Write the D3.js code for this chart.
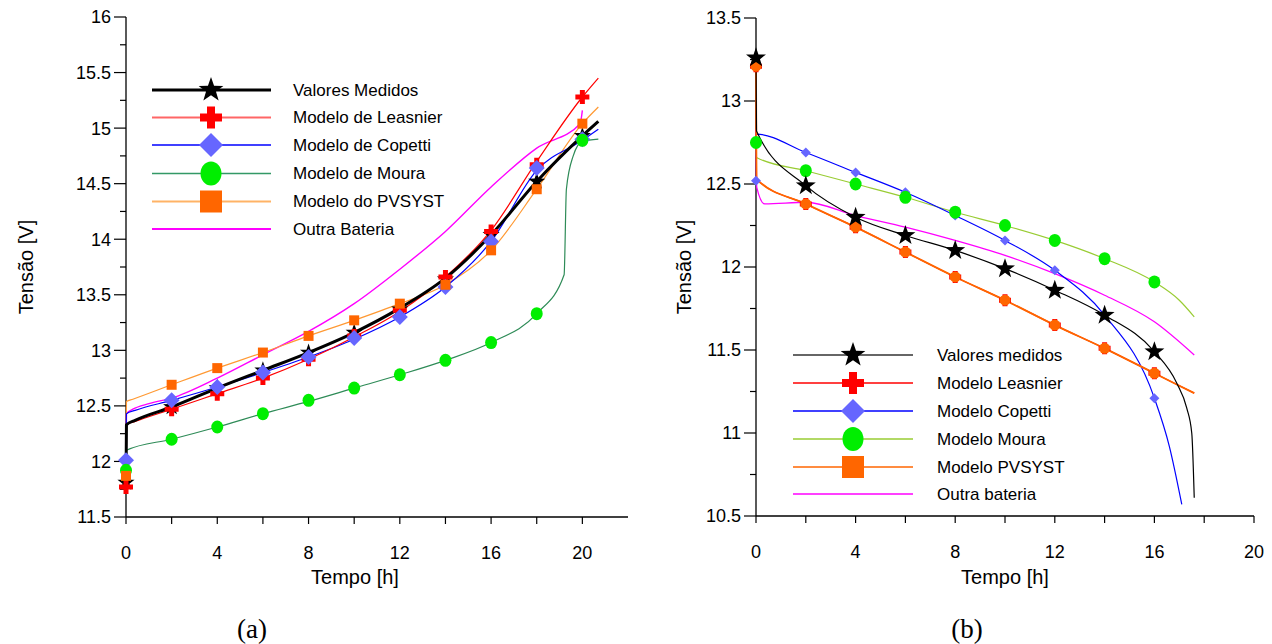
<!DOCTYPE html>
<html><head><meta charset="utf-8">
<script src="https://cdn.jsdelivr.net/npm/d3@7"></script>
<style>
body{margin:0;background:#fff}
svg{display:block}
text{font-family:"Liberation Sans",Arial,sans-serif;fill:#000}
</style>
</head><body>
<svg id="c" width="1272" height="644"></svg>
<script>
// ---------- DATA ----------
const markerTimes = [0, 2, 4, 6, 8, 10, 12, 14, 16, 18, 20];
const xTickValuesA = [0, 2, 4, 6, 8, 10, 12, 14, 16, 18, 20];
const xTickLabelsA = [0, 4, 8, 12, 16, 20];
const yTicksA = [11.5, 12, 12.5, 13, 13.5, 14, 14.5, 15, 15.5, 16];
const xTickLabelsB = [0, 4, 8, 12, 16, 20];
const yTicksB = [10.5, 11, 11.5, 12, 12.5, 13, 13.5];

// (a) charge - legend names
const namesA = ["Valores Medidos", "Modelo de Leasnier", "Modelo de Copetti", "Modelo de Moura", "Modelo do PVSYST", "Outra Bateria"];
// markers at markerTimes
const aMedidosMk  = [11.81, 12.49, 12.66, 12.82, 12.98, 13.16, 13.37, 13.64, 14.04, 14.52, 14.93];
const aLeasnierMk = [11.77, 12.47, 12.61, 12.75, 12.92, 13.13, 13.36, 13.66, 14.07, 14.67, 15.28];
const aCopettiMk  = [12.01, 12.55, 12.67, 12.80, 12.94, 13.11, 13.30, 13.57, 13.98, 14.64, 14.90];
const aMouraMk    = [11.92, 12.20, 12.31, 12.43, 12.55, 12.66, 12.78, 12.91, 13.07, 13.33, 14.89];
const aPvsystMk   = [11.87, 12.69, 12.84, 12.98, 13.13, 13.27, 13.42, 13.59, 13.90, 14.45, 15.04];
// curves [t, V]
const aMedidosLine  = [[0,11.81],[0.02,12.33],[0.4,12.37],[2,12.49],[4,12.66],[6,12.82],[8,12.98],[10,13.16],[12,13.38],[14,13.65],[16,14.04],[18,14.52],[20,14.93],[20.7,15.06]];
const aLeasnierLine = [[0,11.77],[0.02,12.33],[0.4,12.36],[2,12.47],[4,12.61],[6,12.75],[8,12.92],[10,13.12],[12,13.35],[14,13.66],[16,14.08],[18,14.70],[20,15.28],[20.7,15.45]];
const aCopettiLine  = [[0,12.01],[0.02,12.43],[0.4,12.46],[2,12.55],[4,12.67],[6,12.80],[8,12.94],[10,13.10],[12,13.30],[14,13.57],[16,13.98],[18,14.62],[20,14.89],[20.7,14.99]];
const aMouraLine    = [[0,11.92],[0.02,12.10],[2,12.20],[4,12.31],[6,12.43],[8,12.54],[10,12.66],[12,12.78],[14,12.91],[16,13.07],[18,13.33],[19.2,13.68],[19.3,14.45],[19.6,14.75],[20,14.88],[20.7,14.90]];
const aPvsystLine   = [[0,11.87],[0.02,12.54],[0.3,12.56],[2,12.69],[4,12.84],[6,12.98],[8,13.13],[10,13.27],[12,13.42],[14,13.59],[16,13.90],[18,14.45],[20,15.04],[20.7,15.19]];
const aOutraLine    = [[0,11.95],[0.02,12.43],[0.3,12.47],[1,12.52],[2,12.57],[4,12.75],[6,12.96],[8,13.17],[10,13.42],[12,13.73],[14,14.07],[16,14.47],[18,14.82],[19.9,15.04],[20,15.16]];

// (b) discharge
const namesB = ["Valores medidos", "Modelo Leasnier", "Modelo Copetti", "Modelo Moura", "Modelo PVSYST", "Outra bateria"];
const markerTimesB = [0, 2, 4, 6, 8, 10, 12, 14, 16];
const bMedidosMk  = [13.26, 12.49, 12.30, 12.19, 12.10, 11.99, 11.86, 11.71, 11.49];
const bLeasnierMk = [13.21, 12.38, 12.24, 12.09, 11.94, 11.80, 11.65, 11.51, 11.36];
const bCopettiMk  = [12.52, 12.69, 12.57, 12.45, 12.31, 12.16, 11.98, 11.71, 11.21];
const bMouraMk    = [12.75, 12.58, 12.50, 12.42, 12.33, 12.25, 12.16, 12.05, 11.91];
const bPvsystMk   = [13.21, 12.38, 12.24, 12.09, 11.94, 11.80, 11.65, 11.51, 11.36];
const bMedidosLine  = [[0,13.26],[0.02,12.82],[2,12.49],[4,12.30],[6,12.19],[8,12.10],[10,11.99],[12,11.86],[14,11.71],[16,11.49],[16.9,11.30],[17.3,11.15],[17.5,11.0],[17.6,10.61]];
const bLeasnierLine = [[0,13.21],[0.02,12.53],[2,12.38],[4,12.24],[6,12.09],[8,11.94],[10,11.80],[12,11.65],[14,11.51],[16,11.36],[17.6,11.24]];
const bCopettiLine  = [[0,12.52],[0.02,12.80],[2,12.69],[4,12.57],[6,12.45],[8,12.31],[10,12.16],[12,11.98],[14,11.71],[16,11.21],[16.6,10.92],[17.1,10.57]];
const bMouraLine    = [[0,12.75],[0.02,12.66],[2,12.58],[4,12.50],[6,12.42],[8,12.33],[10,12.25],[12,12.16],[14,12.05],[16,11.91],[17,11.80],[17.6,11.70]];
const bPvsystLine   = [[0,13.21],[0.02,12.53],[2,12.38],[4,12.24],[6,12.09],[8,11.94],[10,11.80],[12,11.65],[14,11.51],[16,11.36],[17.6,11.24]];
const bOutraLine    = [[0,12.83],[0.03,12.48],[0.35,12.38],[2,12.39],[4,12.31],[6,12.24],[8,12.16],[10,12.07],[12,11.96],[14,11.83],[16,11.67],[17.6,11.47]];

// ---------- SYMBOLS ----------
function starPath(R){const r=R*0.4;let p=[];for(let i=0;i<10;i++){const a=-Math.PI/2+i*Math.PI/5;const rr=i%2?r:R;p.push([rr*Math.cos(a),rr*Math.sin(a)]);}return "M"+p.map(d=>d.join(",")).join("L")+"Z";}
function plusPath(s,w){const h=s/2,k=w/2;return `M${-k},${-h}H${k}V${-k}H${h}V${k}H${k}V${h}H${-k}V${k}H${-h}V${-k}H${-k}Z`;}
function diamondPath(h){return `M0,${-h}L${h},0L0,${h}L${-h},0Z`;}
function squarePath(s){const h=s/2;return `M${-h},${-h}H${h}V${h}H${-h}Z`;}
function circlePath(rx,ry){ry=ry||rx;return `M${-rx},0A${rx},${ry} 0 1,0 ${rx},0A${rx},${ry} 0 1,0 ${-rx},0Z`;}

const svg = d3.select("#c");

function drawAxes(g, x, y, xTickVals, xLabelVals, yMajor, yMinorStep, xmax){
  const xa = g.append("g").attr("transform",`translate(0,${y.range()[0]})`);
  xa.append("line").attr("x1",x(0)).attr("x2",x(xmax)).attr("stroke","#000").attr("stroke-width",1.3);
  xa.selectAll("line.t").data(xTickVals).join("line").attr("class","t")
    .attr("x1",d=>x(d)).attr("x2",d=>x(d)).attr("y1",0).attr("y2",7).attr("stroke","#000").attr("stroke-width",1.2);
  xa.selectAll("text").data(xLabelVals).join("text")
    .attr("x",d=>x(d)).attr("y",42).attr("text-anchor","middle").attr("font-size",18).text(d=>d);
  const ya = g.append("g").attr("transform",`translate(${x(0)},0)`);
  const [y0,y1] = y.domain();
  ya.append("line").attr("y1",y(y0)).attr("y2",y(y1)).attr("stroke","#000").attr("stroke-width",1.3);
  const minors = d3.range(y0, y1+1e-9, yMinorStep).filter(v=>!yMajor.some(m=>Math.abs(m-v)<1e-6));
  ya.selectAll("line.mn").data(minors).join("line").attr("class","mn")
    .attr("x1",-6).attr("x2",0).attr("y1",d=>y(d)).attr("y2",d=>y(d)).attr("stroke","#000").attr("stroke-width",1.2);
  ya.selectAll("line.mj").data(yMajor).join("line").attr("class","mj")
    .attr("x1",-12).attr("x2",0).attr("y1",d=>y(d)).attr("y2",d=>y(d)).attr("stroke","#000").attr("stroke-width",1.2);
  ya.selectAll("text").data(yMajor).join("text")
    .attr("x",-15).attr("y",d=>y(d)).attr("dy","0.36em").attr("text-anchor","end").attr("font-size",18).text(d=>d);
}

function drawLine(g,x,y,data,color,width){
  g.append("path").datum(data).attr("fill","none").attr("stroke",color).attr("stroke-width",width)
   .attr("stroke-linejoin","round")
   .attr("d",d3.line().x(d=>x(d[0])).y(d=>y(d[1])).curve(d3.curveMonotoneX));
}
function drawMarkers(g,x,y,times,vals,path,color){
  g.selectAll(null).data(times.map((t,i)=>[t,vals[i]])).join("path")
   .attr("transform",d=>`translate(${x(d[0])},${y(d[1])})`).attr("d",path).attr("fill",color);
}

// ---------- CHART (a) ----------
{
  const x = d3.scaleLinear().domain([0,22]).range([126,628]);
  const y = d3.scaleLinear().domain([11.5,16]).range([517,17]);
  const g = svg.append("g");
  drawAxes(g,x,y,xTickValuesA,xTickLabelsA,yTicksA,0.25,22);
  drawLine(g,x,y,aOutraLine,"#FF00FF",1.4);
  drawLine(g,x,y,aPvsystLine,"#FF9933",1.2);
  drawLine(g,x,y,aMouraLine,"#2E8B57",1.2);
  drawLine(g,x,y,aCopettiLine,"#0000FF",1.2);
  drawLine(g,x,y,aLeasnierLine,"#FF0000",1.2);
  drawLine(g,x,y,aMedidosLine,"#000000",3);
  drawMarkers(g,x,y,markerTimes,aMedidosMk,starPath(9),"#000");
  drawMarkers(g,x,y,markerTimes,aLeasnierMk,plusPath(14,5),"#FF0000");
  drawMarkers(g,x,y,markerTimes,aCopettiMk,diamondPath(8),"#6666FF");
  drawMarkers(g,x,y,markerTimes,aMouraMk,circlePath(6,6.5),"#00EE00");
  drawMarkers(g,x,y,markerTimes,aPvsystMk,squarePath(10),"#FF6600");
  g.append("text").attr("transform","translate(26,267) rotate(-90)").attr("text-anchor","middle")
   .attr("dy","0.35em").attr("font-size",20).text("Tensão [V]");
  g.append("text").attr("x",355).attr("y",584).attr("text-anchor","middle").attr("font-size",20).text("Tempo [h]");
  g.append("text").attr("x",252).attr("y",638).attr("text-anchor","middle").attr("font-size",27)
   .style("font-family","'Liberation Serif','Times New Roman',serif").text("(a)");
  const rows=[90,117.5,145,173.5,201.5,229];
  const lStyles=[["#000",3],["#FF6666",2],["#0000FF",1.3],["#339966",1.3],["#FFB366",2],["#FF00FF",2]];
  const lMarks=[[starPath(13),"#000"],[plusPath(22,8),"#FF0000"],[diamondPath(12),"#6666FF"],[circlePath(10.5,12),"#00EE00"],[squarePath(22),"#FF6600"],null];
  namesA.forEach((n,i)=>{
    g.append("line").attr("x1",152).attr("x2",271).attr("y1",rows[i]).attr("y2",rows[i]).attr("stroke",lStyles[i][0]).attr("stroke-width",lStyles[i][1]);
    if(lMarks[i]) g.append("path").attr("transform",`translate(211,${rows[i]})`).attr("d",lMarks[i][0]).attr("fill",lMarks[i][1]);
    g.append("text").attr("x",293).attr("y",rows[i]).attr("dy","0.35em").attr("font-size",17).text(n);
  });
}

// ---------- CHART (b) ----------
{
  const x = d3.scaleLinear().domain([0,20]).range([756,1254]);
  const y = d3.scaleLinear().domain([10.5,13.5]).range([516,18]);
  const g = svg.append("g");
  drawAxes(g,x,y,xTickValuesA,xTickLabelsB,yTicksB,0.25,20);
  drawLine(g,x,y,bOutraLine,"#FF00FF",1.3);
  drawLine(g,x,y,bMouraLine,"#99CC33",1.2);
  drawLine(g,x,y,bCopettiLine,"#0000FF",1.2);
  drawLine(g,x,y,bLeasnierLine,"#FF0000",1.2);
  drawLine(g,x,y,bPvsystLine,"#FF6600",1.8);
  drawLine(g,x,y,bMedidosLine,"#000000",1.2);
  drawMarkers(g,x,y,markerTimesB,bCopettiMk,diamondPath(5),"#6666FF");
  drawMarkers(g,x,y,markerTimesB,bMouraMk,circlePath(6,6.5),"#00EE00");
  drawMarkers(g,x,y,markerTimesB,bLeasnierMk,plusPath(12,5),"#FF0000");
  drawMarkers(g,x,y,markerTimesB,bPvsystMk,circlePath(5.5,5.5),"#FF6600");
  drawMarkers(g,x,y,markerTimesB,bMedidosMk,starPath(10.5),"#000");
  g.append("text").attr("transform","translate(684,267) rotate(-90)").attr("text-anchor","middle")
   .attr("dy","0.35em").attr("font-size",20).text("Tensão [V]");
  g.append("text").attr("x",1005).attr("y",584).attr("text-anchor","middle").attr("font-size",20).text("Tempo [h]");
  g.append("text").attr("x",967).attr("y",638).attr("text-anchor","middle").attr("font-size",27)
   .style("font-family","'Liberation Serif','Times New Roman',serif").text("(b)");
  const rows=[355,383,411,439,467,494];
  const lStyles=[["#333",1.3],["#FF0000",1.3],["#0000FF",1.3],["#99CC33",1.3],["#FF6600",1.5],["#FF00FF",1.5]];
  const lMarks=[[starPath(13),"#000"],[plusPath(22,8),"#FF0000"],[diamondPath(12),"#6666FF"],[circlePath(10.5,12),"#00EE00"],[squarePath(22),"#FF6600"],null];
  namesB.forEach((n,i)=>{
    g.append("line").attr("x1",793).attr("x2",913).attr("y1",rows[i]).attr("y2",rows[i]).attr("stroke",lStyles[i][0]).attr("stroke-width",lStyles[i][1]);
    if(lMarks[i]) g.append("path").attr("transform",`translate(853,${rows[i]})`).attr("d",lMarks[i][0]).attr("fill",lMarks[i][1]);
    g.append("text").attr("x",937).attr("y",rows[i]).attr("dy","0.35em").attr("font-size",17).text(n);
  });
}
</script>
</body></html>
